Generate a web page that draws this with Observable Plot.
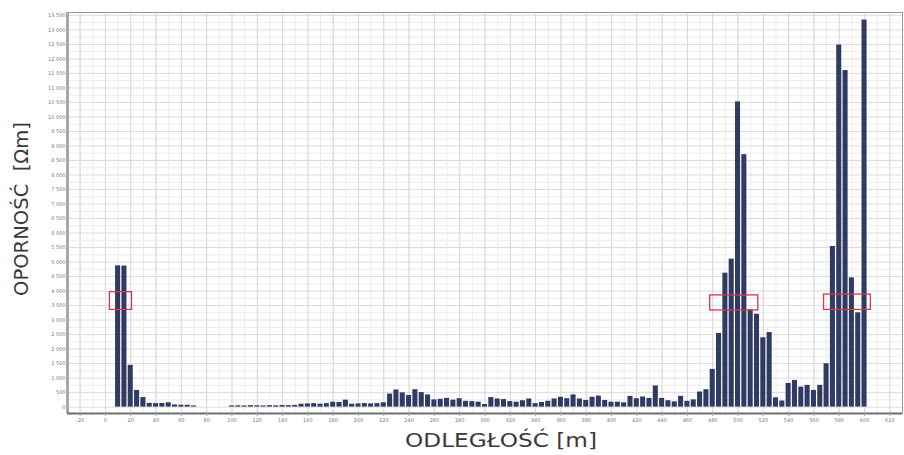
<!DOCTYPE html>
<html>
<head>
<meta charset="utf-8">
<script src="https://cdn.jsdelivr.net/npm/d3@7"></script>
<script src="https://cdn.jsdelivr.net/npm/@observablehq/plot@0.6"></script>
<style>
  html, body { margin: 0; padding: 0; background: #ffffff; }
</style>
</head>
<body>
<script>
// Distance along profile [m]
const distances = [
  10, 15, 20, 25, 30, 35, 40, 45, 50, 55, 60, 65, 70, 75, 80, 85, 90, 95,
  100, 105, 110, 115, 120, 125, 130, 135, 140, 145, 150, 155, 160, 165, 170, 175,
  180, 185, 190, 195, 200, 205, 210, 215, 220, 225, 230, 235, 240, 245, 250, 255,
  260, 265, 270, 275, 280, 285, 290, 295, 300, 305, 310, 315, 320, 325, 330, 335,
  340, 345, 350, 355, 360, 365, 370, 375, 380, 385, 390, 395, 400, 405, 410, 415,
  420, 425, 430, 435, 440, 445, 450, 455, 460, 465, 470, 475, 480, 485, 490, 495,
  500, 505, 510, 515, 520, 525, 530, 535, 540, 545, 550, 555, 560, 565, 570, 575,
  580, 585, 590, 595, 600
];
// Resistivity [Ohm m]
const resistivity = [
  4870, 4860, 1440, 575, 330, 130, 120, 125, 150, 75, 65, 65, 40, 0, 0, 0, 0, 0,
  40, 45, 40, 50, 45, 40, 50, 45, 55, 50, 60, 100, 110, 120, 100, 120,
  170, 160, 240, 100, 110, 120, 110, 120, 150, 450, 590, 490, 400, 600, 500, 420,
  250, 270, 300, 240, 290, 200, 190, 170, 90, 330, 280, 260, 190, 170, 220, 280,
  120, 160, 200, 280, 340, 290, 420, 280, 230, 340, 380, 230, 170, 170, 150, 370,
  290, 350, 300, 730, 300, 220, 180, 370, 200, 250, 520, 600, 1300, 2540, 4615, 5100,
  10520, 8700, 3355, 3200, 2390, 2570, 320, 210, 815, 920, 690, 750, 575, 750, 1495, 5535,
  12480, 11600, 4455, 3250, 13340
];
// Highlighted zones (red boxes)
const boxFrom = [3.5, 478, 568];
const boxTo = [21, 516, 605];
const boxLow = [3350, 3330, 3350];
const boxHigh = [3960, 3850, 3880];

// Tick labels
const xTicks = [-20, 0, 20, 40, 60, 80, 100, 120, 140, 160, 180, 200, 220, 240, 260, 280, 300,
  320, 340, 360, 380, 400, 420, 440, 460, 480, 500, 520, 540, 560, 580, 600, 620];
const yTicks = [0, 500, 1000, 1500, 2000, 2500, 3000, 3500, 4000, 4500, 5000, 5500, 6000, 6500,
  7000, 7500, 8000, 8500, 9000, 9500, 10000, 10500, 11000, 11500, 12000, 12500, 13000, 13500];

const xTitle = "ODLEGŁOŚĆ [m]";
const yTitle = "OPORNOŚĆ  [Ωm]";

const bars = distances.map((m, i) => ({m, v: resistivity[i]}));
const boxes = boxFrom.map((a, i) => ({a, b: boxTo[i], lo: boxLow[i], hi: boxHigh[i]}));

const xMinor = d3.range(-30, 631, 10);
const xMajor = d3.range(-20, 631, 20);
const yMinor = d3.range(250, 13600, 500);
const yMajor = d3.range(0, 13600, 500);

const fmt = d => d < 1000 ? String(d) : `${Math.floor(d / 1000)} ${String(d % 1000).padStart(3, "0")}`;

const chart = Plot.plot({
  width: 904,
  height: 455,
  marginLeft: 67,
  marginRight: 2,
  marginTop: 12,
  marginBottom: 42,
  style: {background: "#ffffff", fontFamily: "DejaVu Sans, sans-serif"},
  x: {domain: [-30, 630]},
  y: {domain: [-220, 13600]},
  marks: [
    Plot.ruleX(xMinor, {stroke: "#ececec", strokeWidth: 1}),
    Plot.ruleY(yMinor, {stroke: "#ececec", strokeWidth: 1}),
    Plot.ruleX(xMajor, {stroke: "#d8d8d8", strokeWidth: 1}),
    Plot.ruleY(yMajor, {stroke: "#dcdcdc", strokeWidth: 1}),
    Plot.rect(bars, {
      x1: d => d.m - 2,
      x2: d => d.m + 2,
      y1: () => 0,
      y2: "v",
      fill: "#2f3b62"
    }),
    Plot.rect(boxes, {
      x1: "a", x2: "b", y1: "lo", y2: "hi",
      fill: "none", stroke: "#d23a48", strokeWidth: 1.3
    }),
    Plot.frame({stroke: "#9a9a9a", strokeWidth: 1}),
    Plot.ruleX([-30], {stroke: "#a8a8a8", strokeWidth: 3}),
    Plot.ruleY([-220], {stroke: "#6e6e6e", strokeWidth: 2}),
    Plot.axisY(yTicks, {
      tickSize: 0, tickPadding: 2, fontSize: 5, fill: "#777",
      tickFormat: fmt, label: null
    }),
    Plot.axisX(xTicks, {
      tickSize: 3, tickPadding: 2, fontSize: 5, fill: "#777", stroke: "#aaa",
      tickFormat: d => String(d), label: null
    })
  ]
});

document.body.append(chart);

const svg = d3.select(chart);
svg.append("text")
  .attr("x", 501)
  .attr("y", 447)
  .attr("text-anchor", "middle")
  .attr("font-family", "DejaVu Sans, sans-serif")
  .attr("font-size", 19)
  .attr("fill", "#3a3a3a")
  .attr("textLength", 192)
  .attr("lengthAdjust", "spacingAndGlyphs")
  .text(xTitle);
svg.append("text")
  .attr("transform", "translate(28,209) rotate(-90)")
  .attr("text-anchor", "middle")
  .attr("font-family", "DejaVu Sans, sans-serif")
  .attr("font-size", 19)
  .attr("fill", "#3a3a3a")
  .attr("textLength", 174)
  .attr("lengthAdjust", "spacingAndGlyphs")
  .text(yTitle);
</script>
</body>
</html>
